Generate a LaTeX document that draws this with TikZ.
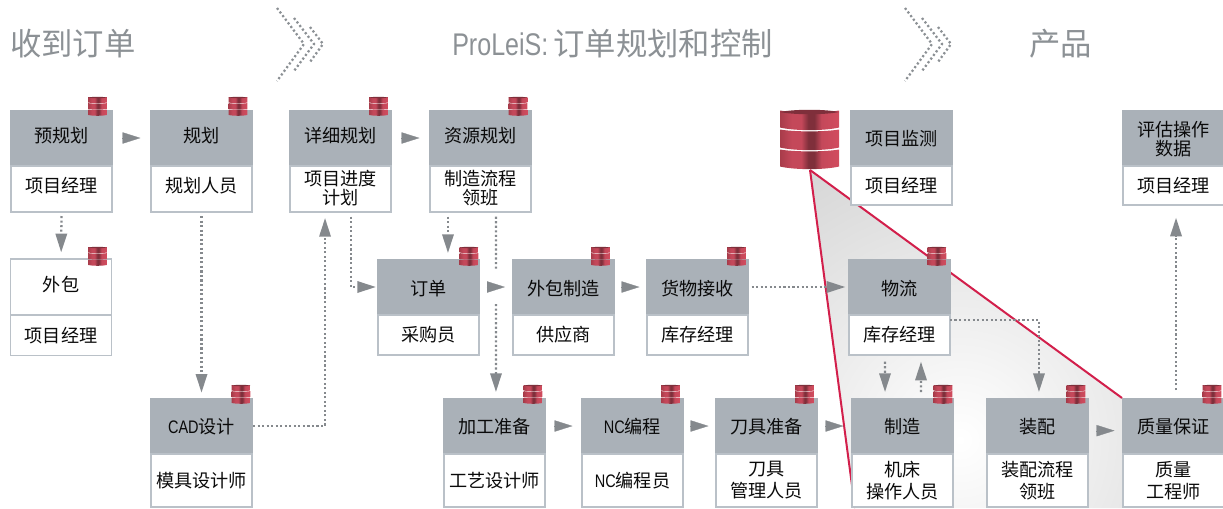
\documentclass[tikz,border=0pt]{standalone}
\usepackage{fontspec}
\setmainfont{Noto Sans CJK SC}
\newfontfamily\latc[FakeStretch=0.8]{Liberation Sans}
\usetikzlibrary{arrows.meta,calc}
\definecolor{headgrey}{HTML}{AAB1B8}
\definecolor{edgegrey}{HTML}{BAC1C8}
\definecolor{tipgrey}{HTML}{85898D}
\definecolor{titlegrey}{HTML}{8C9195}
\definecolor{beamred}{HTML}{D21F4B}
\definecolor{inktext}{HTML}{0A0A0A}
\definecolor{dbleft}{HTML}{A83C4A}
\definecolor{dbred}{HTML}{C4485A}
\definecolor{dbmid}{HTML}{7F2F3B}
\definecolor{dbright}{HTML}{D24C5E}
\pgfdeclarehorizontalshading{dbband}{100bp}{color(0bp)=(dbleft); color(25bp)=(dbleft); color(35bp)=(dbred); color(43bp)=(dbred); color(49bp)=(dbmid); color(54bp)=(dbmid); color(60bp)=(dbred); color(75bp)=(dbright); color(100bp)=(dbright)}
\tikzset{
  x=0.75pt,y=-0.75pt,
  headbox/.style={fill=headgrey,minimum width=77.25pt,minimum height=42pt,inner sep=0pt,outer sep=0pt},
  bodybox/.style={draw=edgegrey,line width=1.1pt,fill=white,minimum width=75.6pt,inner sep=0pt,outer sep=0pt},
  labeltext/.style={text=inktext,font=\fontsize{13.6}{15}\selectfont,align=center,inner sep=0pt},
  titletext/.style={text=titlegrey,font=\fontsize{23.5}{26}\selectfont,inner sep=0pt},
  dotflow/.style={draw=tipgrey,line width=1.7pt,dash pattern=on 1.6pt off 1.8pt,-{Triangle[length=14pt,width=8.5pt]}},
  dotplain/.style={draw=tipgrey,line width=1.7pt,dash pattern=on 1.6pt off 1.8pt},
  tiponly/.style={draw=tipgrey,line width=0.2pt,-{Triangle[length=13.5pt,width=8.5pt]},shorten >=#1*0.75pt,shorten <=#1*0.75pt-0.2pt},
  chevron/.style={draw=titlegrey,line width=1.7pt,dash pattern=on 1.6pt off 1.8pt},
  beamline/.style={draw=beamred,line width=1.5pt},
}
% name, left, top, body height px, title, title shift pt, role, role shift pt
\newcommand{\procbox}[8]{%
  \node[headbox,anchor=north west] (#1) at (#2,#3) {};
  \pgfmathsetlengthmacro{\bodyh}{#4*0.75pt}
  \node[bodybox,anchor=north,minimum height=\bodyh] (#1b) at (#1.south) {};
  \node[labeltext] (#1t) at ([yshift=#6pt]#1.center) {#5};
  \node[labeltext] (#1r) at ([yshift=#8pt]#1b.center) {#7};
}
\newcommand{\dbicon}[3]{%
  \begin{scope}[shift={(#1,#2)},scale=#3]
    \foreach \t/\b in {-28/-11,-9/9,11/28}{
      \shade[shading=dbband]
        (-29.5,\t) .. controls (-15,\t+2.5) and (15,\t+2.5) .. (29.5,\t) -- (29.5,\b)
        .. controls (15,\b+3.5) and (-15,\b+3.5) .. (-29.5,\b) -- cycle;
    }
    \fill[dbmid] (-29.5,-26.5) .. controls (-15,-29.5) and (15,-29.5) .. (29.5,-26.5)
        .. controls (15,-23.5) and (-15,-23.5) .. (-29.5,-26.5) -- cycle;
  \end{scope}
}
\begin{document}
\begin{tikzpicture}
\clip (0,0) rectangle (1223,508);
% beam
\begin{scope}
  \clip (810,170) -- (1122,398) -- (1122,508) -- (855,508) -- cycle;
  \shade[inner color=white,outer color=black!17] (960,440) circle (330);
\end{scope}
\draw[beamline] (810,170) -- (1122,398);
\draw[beamline] (810,170) -- (855,508);
% titles
\node[titletext,anchor=west] (tA) at (10,44) {收到订单};
\node[titletext,anchor=west] (tB) at (452,44) {{\latc ProLeiS:}\,订单规划和控制};
\node[titletext,anchor=west] (tC) at (1029,44) {产品};
% chevrons
\foreach \dx in {0,628}{
  \begin{scope}[xshift=\dx*0.75pt]
    \draw[chevron] (277,8) -- (304,44) -- (277,81);
    \draw[chevron] (294,18) -- (314,44) -- (294,71);
    \draw[chevron] (310,27) -- (323,44) -- (310,62);
  \end{scope}
}
% row 1
\procbox{pre}{10}{110}{46}{预规划}{2}{项目经理}{2.2}
\procbox{plan}{150}{110}{46}{规划}{2}{规划人员}{2.2}
\procbox{detail}{289}{110}{46}{详细规划}{2}{项目进度\\[-0.8pt]计划}{0.5}
\procbox{res}{429}{110}{46}{资源规划}{2}{制造流程\\[-0.8pt]领班}{0.5}
\procbox{mon}{850}{110}{39}{项目监测}{-0.7}{项目经理}{0}
\procbox{eval}{1122}{110}{39}{评估操作\\[-0.8pt]数据}{-0.7}{项目经理}{0}
% row 2
\node[draw=edgegrey,line width=1.1pt,fill=white,minimum width=75.6pt,minimum height=42pt,inner sep=0pt,outer sep=0pt,anchor=north west] (out) at (10.7,259) {};
\node[bodybox,anchor=north,minimum height=30.5pt] (outb) at (out.south) {};
\node[labeltext] (outt) at ([yshift=2pt]out.center) {外包};
\node[labeltext] (outr) at (outb.center) {项目经理};
\procbox{order}{377}{259}{40}{订单}{-1}{采购员}{0}
\procbox{sub}{512}{259}{40}{外包制造}{-1}{供应商}{0}
\procbox{recv}{646}{259}{40}{货物接收}{-1}{库存经理}{0}
\procbox{logi}{848}{259}{40}{物流}{-1}{库存经理}{0}
% row 3
\procbox{cad}{150}{398}{53}{{\latc CAD}设计}{-0.5}{模具设计师}{0}
\procbox{prep}{443}{398}{53}{加工准备}{-0.5}{工艺设计师}{0}
\procbox{nc}{581}{398}{53}{{\latc NC}编程}{-0.5}{{\latc NC}编程员}{0}
\procbox{tool}{715}{398}{53}{刀具准备}{-0.5}{刀具\\[1.5pt]管理人员}{0}
\procbox{make}{851}{398}{53}{制造}{-0.5}{机床\\[1.5pt]操作人员}{0}
\procbox{asm}{986}{398}{53}{装配}{-0.5}{装配流程\\[1.5pt]领班}{0}
\procbox{qa}{1122}{398}{53}{质量保证}{-0.5}{质量\\[1.5pt]工程师}{0}
% database icons
\dbicon{809.5}{138.5}{1}
\foreach \cx/\cy in {97.5/106,238/106,378.5/106,518/106,97.5/256,469/256,600.5/256,736.5/256,937/256,241/394,533/394,670.5/394,804.5/394,943/394,1076/394,1212/394}{
  \dbicon{\cx}{\cy}{0.32}
}
% block arrows
\draw[tiponly=9.5] (pre.east) -- (plan.west);
\draw[tiponly=9.5] (detail.east) -- (res.west);
\draw[tiponly=7] (order.east) -- (sub.west);
\draw[tiponly=6.5] (sub.east) -- (recv.west);
\draw[tiponly=8.5] (prep.east) -- (nc.west);
\draw[tiponly=6.5] (nc.east) -- (tool.west);
\draw[tiponly=7.5] (tool.east) -- (make.west);
\draw[tiponly=7.5] ([yshift=-3.5pt]asm.east) -- ([yshift=-3.5pt]qa.west);
% dotted connectors
\draw[dotflow,shorten <=3pt,shorten >=5pt] (preb.south) -- (out.north);
\draw[dotflow,shorten <=3pt,shorten >=4pt] (planb.south) -- (cad.north);
\draw[dotflow,shorten >=4.5pt] (cad.east) -| ([xshift=-11.6pt]detailb.south);
\draw[dotflow,shorten <=3.5pt,shorten >=0.8pt] ([xshift=7.9pt]detailb.south) |- (order.west);
\draw[dotflow,shorten <=3.5pt,shorten >=4.5pt] ([xshift=-24.4pt]resb.south) -- ([xshift=14.6pt]order.north);
\coordinate (gapA) at (496,270);
\coordinate (gapB) at (496,304);
\draw[dotplain,shorten <=3.5pt] ([xshift=11.6pt]resb.south) -- (gapA);
\draw[dotflow,shorten >=4.5pt] (gapB) -- ([xshift=1.1pt]prep.north);
\draw[dotflow,shorten <=2pt,shorten >=2pt] (recv.east) -- (logi.west);
\draw[dotflow,shorten >=4.5pt] ([yshift=11.25pt]logib.east) -| ([xshift=1.1pt]asm.north);
\draw[dotflow,shorten <=5pt,shorten >=4.5pt] ([xshift=-10.9pt]logib.south) -- ([xshift=-13.1pt]make.north);
\draw[dotflow,shorten <=4.5pt,shorten >=5pt] ([xshift=13.9pt]make.north) -- ([xshift=16.1pt]logib.south);
\draw[dotflow,shorten <=6pt,shorten >=9.5pt] ([xshift=1.9pt]qa.north) -- ([xshift=1.9pt]evalb.south);
\end{tikzpicture}
\end{document}
